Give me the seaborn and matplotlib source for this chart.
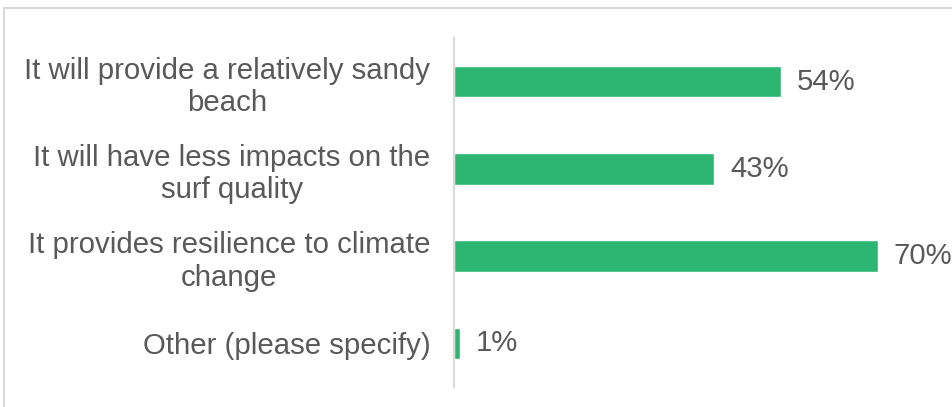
import numpy as np
import pandas as pd
import matplotlib
matplotlib.use("Agg")
import matplotlib.pyplot as plt
import seaborn as sns
from matplotlib.patches import Rectangle

categories = ["It will provide a relatively sandy\nbeach",
              "It will have less impacts on the\nsurf quality",
              "It provides resilience to climate\nchange",
              "Other (please specify)"]
values = [54, 43, 70, 1]
value_labels = ["54%", "43%", "70%", "1%"]

df = pd.DataFrame({"answer": categories, "pct": values})

sns.set_style("white")
plt.rcParams['font.family'] = ['Liberation Sans', 'DejaVu Sans']

fig = plt.figure(figsize=(9.52, 4.07), dpi=100)
# light frame around the panel
fig.patches.append(Rectangle((4 / 952, -0.1), 1.2, 1 - 8 / 407 + 0.1,
                             transform=fig.transFigure, fill=False,
                             edgecolor="#d9d9d9", linewidth=1.5))

ax = fig.add_axes([454 / 952, 20 / 407, 498 / 952, 349 / 407])
sns.barplot(data=df, x="pct", y="answer", color="#2db672", width=0.36,
            saturation=1, ax=ax)

ax.set_xlim(0, 82.3)
ax.set_ylim(3.5, -0.5)
ax.set_xlabel("")
ax.set_ylabel("")
ax.set_xticks([])
for s in ["top", "right", "bottom"]:
    ax.spines[s].set_visible(False)
ax.spines["left"].set_color("#d9d9d9")
ax.spines["left"].set_linewidth(1.5)

ax.tick_params(axis="y", length=0, pad=17, labelsize=21.2, labelcolor="#595959")
for lab in ax.get_yticklabels():
    lab.set_multialignment("center")
    lab.set_linespacing(1.2)

for i, (v, t) in enumerate(zip(values, value_labels)):
    ax.text(v + 2.6, i, t, va="center", ha="left", fontsize=21.2,
            color="#595959", clip_on=False)

fig.savefig("out.png", dpi=100)
